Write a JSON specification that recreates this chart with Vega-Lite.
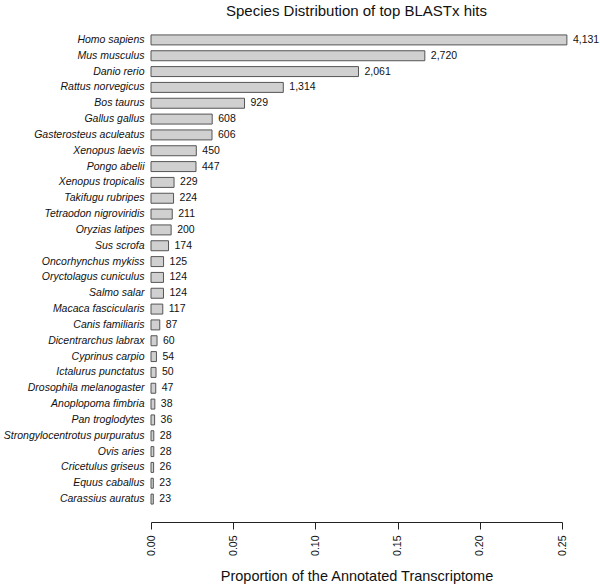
{
  "$schema": "https://vega.github.io/schema/vega-lite/v6.json",
  "autosize": {"type": "none"},
  "padding": {"left": 151, "top": 32, "right": 38, "bottom": 78},
  "width": 411,
  "height": 475,
  "background": "white",
  "title": {"text": "Species Distribution of top BLASTx hits", "font": "Liberation Sans", "fontSize": 15, "fontWeight": "normal", "color": "#111", "offset": 13},
  "config": {"view": {"stroke": null}, "font": "Liberation Sans"},
  "data": {"values": [
    {"species": "Homo sapiens", "prop": 0.25297, "label": "4,131"},
    {"species": "Mus musculus", "prop": 0.16656, "label": "2,720"},
    {"species": "Danio rerio", "prop": 0.12621, "label": "2,061"},
    {"species": "Rattus norvegicus", "prop": 0.08047, "label": "1,314"},
    {"species": "Bos taurus", "prop": 0.05689, "label": "929"},
    {"species": "Gallus gallus", "prop": 0.03723, "label": "608"},
    {"species": "Gasterosteus aculeatus", "prop": 0.03711, "label": "606"},
    {"species": "Xenopus laevis", "prop": 0.02756, "label": "450"},
    {"species": "Pongo abelii", "prop": 0.02737, "label": "447"},
    {"species": "Xenopus tropicalis", "prop": 0.01402, "label": "229"},
    {"species": "Takifugu rubripes", "prop": 0.01372, "label": "224"},
    {"species": "Tetraodon nigroviridis", "prop": 0.01292, "label": "211"},
    {"species": "Oryzias latipes", "prop": 0.01225, "label": "200"},
    {"species": "Sus scrofa", "prop": 0.01066, "label": "174"},
    {"species": "Oncorhynchus mykiss", "prop": 0.00765, "label": "125"},
    {"species": "Oryctolagus cuniculus", "prop": 0.00759, "label": "124"},
    {"species": "Salmo salar", "prop": 0.00759, "label": "124"},
    {"species": "Macaca fascicularis", "prop": 0.00716, "label": "117"},
    {"species": "Canis familiaris", "prop": 0.00533, "label": "87"},
    {"species": "Dicentrarchus labrax", "prop": 0.00367, "label": "60"},
    {"species": "Cyprinus carpio", "prop": 0.00331, "label": "54"},
    {"species": "Ictalurus punctatus", "prop": 0.00306, "label": "50"},
    {"species": "Drosophila melanogaster", "prop": 0.00288, "label": "47"},
    {"species": "Anoplopoma fimbria", "prop": 0.00233, "label": "38"},
    {"species": "Pan troglodytes", "prop": 0.0022, "label": "36"},
    {"species": "Strongylocentrotus purpuratus", "prop": 0.00171, "label": "28"},
    {"species": "Ovis aries", "prop": 0.00171, "label": "28"},
    {"species": "Cricetulus griseus", "prop": 0.00159, "label": "26"},
    {"species": "Equus caballus", "prop": 0.00141, "label": "23"},
    {"species": "Carassius auratus", "prop": 0.00141, "label": "23"}
  ]},
  "encoding": {
    "y": {"field": "species", "type": "nominal", "sort": null,
      "scale": {"paddingInner": 0.37, "paddingOuter": 0.185},
      "axis": {"title": null, "domain": false, "ticks": false, "labelPadding": 7, "labelFont": "Liberation Sans", "labelFontStyle": "italic", "labelFontSize": 10.5, "labelColor": "#111"}},
    "x": {"field": "prop", "type": "quantitative",
      "scale": {"domain": [0, 0.25], "nice": false, "zero": true},
      "axis": {"title": "Proportion of the Annotated Transcriptome", "values": [0, 0.05, 0.1, 0.15, 0.2, 0.25], "format": ".2f", "grid": false, "offset": 15, "domainColor": "#222", "tickColor": "#222", "tickSize": 7, "labelAngle": -90, "labelAlign": "right", "labelBaseline": "middle", "labelPadding": 6, "labelFontSize": 10.5, "labelColor": "#111", "titleFontSize": 14.5, "titleFontWeight": "normal", "titleColor": "#111", "titlePadding": 14}}
  },
  "layer": [
    {"mark": {"type": "bar", "fill": "#d0d0d0", "stroke": "#555555", "strokeWidth": 1, "clip": false}},
    {"mark": {"type": "text", "align": "left", "baseline": "middle", "dx": 6, "fontSize": 10.5, "color": "#111"},
     "encoding": {"text": {"field": "label"}}}
  ]
}
